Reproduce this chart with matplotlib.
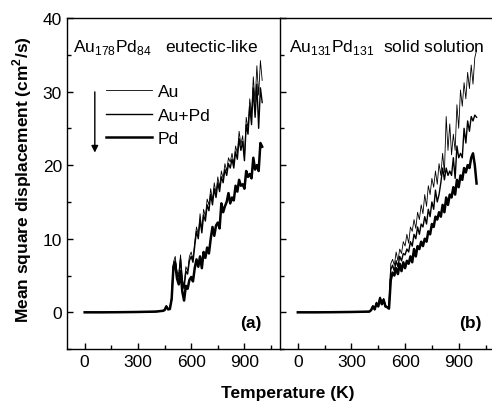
import numpy as np
import matplotlib
matplotlib.use("Agg")
import matplotlib.pyplot as plt
from matplotlib.ticker import MultipleLocator

plt.rcParams['font.family'] = ['Liberation Sans', 'DejaVu Sans']
plt.rcParams['mathtext.fontset'] = 'custom'
plt.rcParams['mathtext.rm'] = 'Liberation Sans'
plt.rcParams['mathtext.bf'] = 'Liberation Sans:bold'

# temperature grids (K)
temp_a = [0, 100, 200, 300, 400, 410, 420, 430, 440,
          450, 460, 470, 480, 490,
          500, 510, 520, 530, 540, 550, 560, 570, 580, 590,
          600, 610, 620, 630, 640, 650, 660, 670, 680, 690,
          700, 710, 720, 730, 740, 750, 760, 770, 780, 790,
          800, 810, 820, 830, 840, 850, 860, 870, 880, 890,
          900, 910, 920, 930, 940, 950, 960, 970, 980, 990, 1000]
temp_b = temp_a

# (a) Au178Pd84 eutectic-like
au_a = [0.0, 0.0, 0.02, 0.05, 0.1, 0.12, 0.15, 0.18, 0.2,
        0.3, 0.9, 0.4, 0.5, 2.0,
        6.8, 7.6, 5.5, 5.2, 7.8, 4.6, 3.6, 6.2, 5.6, 7.6,
        8.2, 7.2, 9.6, 11.6, 10.6, 13.4, 11.2, 14.0, 13.0, 15.4,
        14.6, 16.8, 15.2, 17.6, 16.2, 18.4, 17.0, 19.2, 18.2, 20.2,
        19.2, 21.0, 20.4, 21.6, 20.2, 22.6, 21.6, 24.6, 22.8, 24.0,
        21.0, 26.5, 25.0, 29.0, 27.0, 32.0, 28.5, 33.5, 29.5, 34.2, 31.5]
aupd_a = [0.0, 0.0, 0.02, 0.05, 0.1, 0.12, 0.15, 0.18, 0.2,
          0.3, 0.85, 0.4, 0.5, 1.9,
          6.5, 7.0, 5.2, 4.8, 7.2, 4.2, 3.2, 5.6, 5.2, 7.0,
          7.6, 6.8, 9.0, 11.0, 10.0, 12.6, 10.8, 13.2, 12.4, 14.6,
          13.8, 16.0, 14.6, 16.8, 15.6, 17.6, 16.4, 18.4, 17.6, 19.4,
          18.6, 20.2, 19.6, 20.8, 19.6, 21.8, 20.8, 23.6, 22.0, 23.2,
          20.6, 25.5, 24.2, 28.0, 25.5, 30.5, 26.5, 31.0, 25.0, 30.5, 28.5]
pd_a = [0.0, 0.0, 0.02, 0.05, 0.1, 0.12, 0.15, 0.18, 0.2,
        0.3, 0.8, 0.4, 0.45, 1.8,
        6.2, 6.6, 4.6, 3.8, 5.6, 2.8, 1.6, 3.6, 3.2, 4.4,
        4.8, 4.2, 6.0, 7.2, 6.2, 7.6, 6.0, 8.2, 7.4, 8.8,
        8.0, 10.0, 11.6, 10.4, 11.8, 12.2, 11.4, 14.8, 13.6, 14.4,
        15.0, 16.2, 14.8, 15.6, 15.2, 17.2, 16.4, 18.0, 17.2, 17.4,
        16.8, 19.2, 18.4, 18.8, 18.2, 21.0, 19.4, 20.0, 19.2, 23.0, 22.5]

# (b) Au131Pd131 solid solution
au_b = [0.0, 0.0, 0.02, 0.05, 0.1, 0.3, 0.9, 0.5, 1.4,
        1.0, 2.1, 1.3, 1.9, 0.9,
        0.8, 0.6, 6.6, 7.2, 6.4, 8.2, 7.0, 8.6, 8.0, 9.6,
        9.0, 10.6, 9.4, 11.6, 11.0, 12.6, 11.4, 13.6, 12.6, 14.6,
        13.4, 16.0, 14.4, 17.2, 16.0, 18.2, 17.0, 19.2, 17.4, 20.2,
        18.6, 21.6, 19.0, 26.6, 22.0, 25.6, 21.4, 24.2, 22.0, 28.2,
        25.0, 30.2, 28.0, 31.2, 29.0, 32.6, 30.4, 33.6, 31.0, 34.6, 35.6]
aupd_b = [0.0, 0.0, 0.02, 0.05, 0.1, 0.3, 0.85, 0.45, 1.3,
          0.9, 2.0, 1.2, 1.8, 0.85,
          0.75, 0.55, 5.8, 6.4, 5.6, 7.0, 6.2, 7.6, 7.0, 8.0,
          7.8, 8.6, 8.2, 9.6, 9.0, 10.6, 10.0, 11.6, 10.6, 12.0,
          11.6, 13.0, 12.0, 14.0, 13.0, 15.0, 14.0, 16.6, 15.0, 16.0,
          17.6, 19.6, 18.0, 19.6, 18.6, 19.2, 18.6, 21.0, 18.2, 22.6,
          21.0, 21.6, 21.0, 25.0, 23.0, 26.0, 24.6, 26.6, 26.0, 26.8, 26.5]
pd_b = [0.0, 0.0, 0.02, 0.05, 0.1, 0.3, 0.8, 0.4, 1.2,
        0.8, 1.9, 1.1, 1.7, 0.8,
        0.7, 0.5, 4.4, 5.4, 5.0, 6.0, 5.2, 6.6, 5.6, 6.8,
        6.0, 7.0, 6.6, 7.6, 6.8, 8.6, 7.6, 9.0, 8.6, 9.6,
        9.0, 10.0, 9.6, 11.0, 10.6, 12.0, 11.6, 13.0, 12.6, 13.6,
        13.0, 14.6, 13.6, 15.6, 14.6, 16.0, 15.6, 17.0, 16.0, 18.0,
        17.0, 18.6, 18.0, 19.6, 19.0, 20.0, 19.6, 21.0, 21.6, 20.0, 17.5]

fig = plt.figure(figsize=(4.92, 4.02), dpi=100)
ax1 = fig.add_axes([0.136, 0.129, 0.433, 0.824])
ax2 = fig.add_axes([0.569, 0.129, 0.436, 0.824])

for ax, t, au, aupd, pd in [(ax1, temp_a, au_a, aupd_a, pd_a),
                            (ax2, temp_b, au_b, aupd_b, pd_b)]:
    ax.plot(t, au, color='black', lw=0.6, label='Au')
    ax.plot(t, aupd, color='black', lw=1.0, label='Au+Pd')
    ax.plot(t, pd, color='black', lw=1.8, label='Pd')
    ax.set_xlim(-100, 1100)
    ax.set_ylim(-5, 40)
    ax.xaxis.set_major_locator(MultipleLocator(300))
    ax.xaxis.set_minor_locator(MultipleLocator(150))
    ax.yaxis.set_major_locator(MultipleLocator(10))
    ax.yaxis.set_minor_locator(MultipleLocator(5))
    ax.tick_params(which='both', direction='in', top=False, right=False,
                   labelsize=12.5, width=1.0)
    ax.tick_params(which='major', length=4)
    ax.tick_params(which='minor', length=3)
    for s in ax.spines.values():
        s.set_linewidth(1.0)

ax2.tick_params(labelleft=False)
ax1.spines['right'].set_visible(False)

ax1.text(0.03, 0.915, 'Au$_{178}$Pd$_{84}$   eutectic-like',
         transform=ax1.transAxes, fontsize=12.5, va='center')
ax2.text(0.04, 0.915, 'Au$_{131}$Pd$_{131}$  solid solution',
         transform=ax2.transAxes, fontsize=12.5, va='center')
ax1.text(0.915, 0.08, '(a)', transform=ax1.transAxes, fontsize=12.5,
         fontweight='bold', ha='right', va='center')
ax2.text(0.94, 0.08, '(b)', transform=ax2.transAxes, fontsize=12.5,
         fontweight='bold', ha='right', va='center')

ax1.legend(loc='upper left', bbox_to_anchor=(0.185, 0.8), frameon=False,
           fontsize=12.5, handlelength=2.65, labelspacing=0.48,
           handletextpad=0.3, borderpad=0, borderaxespad=0)
ax1.annotate('', xy=(0.131, 0.585), xytext=(0.131, 0.785),
             xycoords='axes fraction',
             arrowprops=dict(arrowstyle='-|>', color='black', lw=1.0,
                             mutation_scale=10))

fig.text(0.585, 0.02, 'Temperature (K)', ha='center', va='center',
         fontsize=12.5, fontweight='bold')
fig.text(0.045, 0.552, 'Mean square displacement (cm$^\\mathbf{2}$/s)',
         ha='center', va='center', rotation=90, fontsize=12.5,
         fontweight='bold')

fig.savefig('out.png', dpi=100)
